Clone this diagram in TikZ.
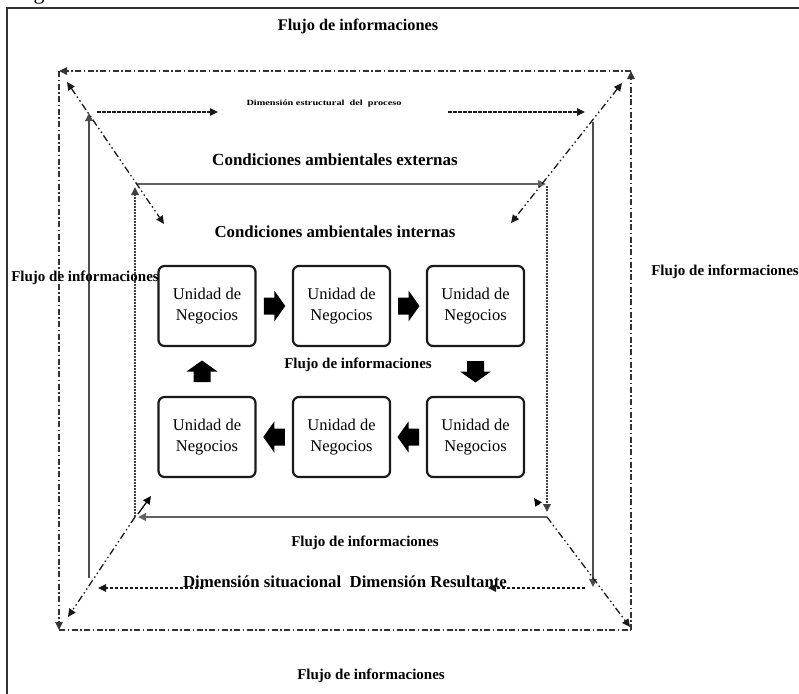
\documentclass[tikz,border=0pt]{standalone}
\usepackage{fontspec}
\usepackage{graphicx}
\setmainfont{Liberation Serif}
\usetikzlibrary{arrows.meta,calc}
\begin{document}
\begin{tikzpicture}[x=1pt,y=-1pt,
  tipa/.style={-{Triangle[length=8pt,width=7.5pt]}},
  tipb/.style={{Triangle[length=8pt,width=7.5pt]}-{Triangle[length=8pt,width=7.5pt]}},
  frame/.style={line width=1.4pt,black!80},
  outerdd/.style={line width=1.3pt,black!80,dash pattern=on 6pt off 2.5pt on 1.5pt off 2.5pt},
  diagdd/.style={line width=1.3pt,black!90,dash pattern=on 7pt off 3pt on 1.5pt off 3pt on 1.5pt off 3pt},
  dashar/.style={line width=1.2pt,black!90,dash pattern=on 3.5pt off 1.5pt},
  solidg/.style={line width=1.6pt,black!70},
  innersolid/.style={line width=2.4pt,black!62},
  innerdash/.style={line width=1.8pt,black!75,dash pattern=on 2pt off 1pt},
  unit/.style={draw=black!90,line width=2.2pt,rounded corners=6pt,minimum width=97pt,minimum height=80pt,
    align=center,font=\fontsize{16.5}{21}\selectfont,inner sep=0pt},
  blockarrow/.pic={\fill[black] (-10.5,-8.5) -- (0,-8.5) -- (0,-15.5) -- (11,0) -- (0,15.5) -- (0,8.5) -- (-10.5,8.5) -- cycle;},
  flujo/.style={font=\fontsize{15}{17}\selectfont\bfseries,inner sep=0pt},
  flujoT/.style={font=\fontsize{16.3}{18}\selectfont\bfseries,inner sep=0pt},
  cond/.style={font=\fontsize{17}{19}\selectfont\bfseries,inner sep=0pt},
  dimtxt/.style={font=\fontsize{16.8}{20}\selectfont\bfseries,inner sep=0pt}
]
\useasboundingbox (0,0) rectangle (799,693);

% cut-off caption fragment
\node[anchor=base,inner sep=0pt,font=\fontsize{22}{24}\selectfont] (capg) at (39,0) {g};

% outer frame
\coordinate (fBL) at (7,720);
\coordinate (fTL) at (7,8);
\coordinate (fTR) at (820,8);
\draw[frame] (fBL) -- (fTL) -- (fTR);

% outer dash-dot square
\coordinate (oTL) at (59,71);
\coordinate (oTR) at (631,71);
\coordinate (oBL) at (59,630);
\coordinate (oBR) at (631,630);
\draw[outerdd,tipa] (oTR) -- (oTL);
\draw[outerdd,tipa] (oTL) -- (oBL);
\draw[outerdd] (oBL) -- (oBR);
\draw[outerdd,tipa] (oBR) -- (oTR);

% second (process) square
\coordinate (sL1) at (89,578);
\coordinate (sL2) at (89,113);
\coordinate (sR1) at (593,122);
\coordinate (sR2) at (593,587);
\draw[solidg,tipa] (sL1) -- (sL2);
\draw[solidg,tipa] (sR1) -- (sR2);
\coordinate (tA1) at (97,112);
\coordinate (tA2) at (218,112);
\coordinate (tB1) at (448,112);
\coordinate (tB2) at (585,112);
\draw[dashar,tipa] (tA1) -- (tA2);
\draw[dashar,tipa] (tB1) -- (tB2);
\coordinate (bA1) at (585,588);
\coordinate (bA2) at (488,588);
\coordinate (bB1) at (203,588);
\coordinate (bB2) at (98,588);
\draw[dashar,tipa] (bA1) -- (bA2);
\draw[dashar,tipa] (bB1) -- (bB2);

% inner square
\coordinate (iTL) at (137,184);
\coordinate (iTR) at (547,184);
\coordinate (iBL) at (135,517);
\coordinate (iBR) at (547,517);
\draw[innersolid,tipa] (iTL) -- ($(iTR)+(-1,0)$);
\draw[innerdash,tipa] ($(iTR)+(0,2)$) -- ($(iBR)+(0,-5)$);
\draw[innersolid,tipa] (iBR) -- ($(iBL)+(3,0)$);
\draw[innerdash,tipa] (iBL) -- ($(iTL)+(-2,3)$);

% diagonals
\coordinate (d1a) at (67,82);
\coordinate (d1b) at (164,224);
\draw[diagdd,tipb] (d1a) -- (d1b);
\coordinate (d2a) at (622,83);
\coordinate (d2b) at (511,223);
\draw[diagdd,tipb] (d2a) -- (d2b);
\coordinate (d3a) at (68,617);
\draw[diagdd,tipa] (iBL) -- (d3a);
\coordinate (d3b) at (151,496);
\draw[line width=1.3pt,black,tipa] ($(iBL)+(3,-3)$) -- (d3b);
\coordinate (d4a) at (630,627);
\draw[diagdd,tipa] (iBR) -- (d4a);
\coordinate (d4b) at (534,498);
\coordinate (d4c) at (539,505);
\draw[line width=1pt,black,-{Triangle[length=8pt,width=7.5pt]}] (d4c) -- (d4b);

% business units
\node[unit] (b1) at (207,306) {Unidad de\\Negocios};
\node[unit] (b2) at (341.5,306) {Unidad de\\Negocios};
\node[unit] (b3) at (475.5,306) {Unidad de\\Negocios};
\node[unit] (b4) at (207,437) {Unidad de\\Negocios};
\node[unit] (b5) at (341.5,437) {Unidad de\\Negocios};
\node[unit] (b6) at (475.5,437) {Unidad de\\Negocios};

% block arrows between units
\pic at ($(b1.east)!0.5!(b2.west)$) {blockarrow};
\pic at ($(b2.east)!0.5!(b3.west)$) {blockarrow};
\pic[rotate=-90] at ($(b3.south)!0.5!(b6.north)$) {blockarrow};
\pic[rotate=180] at ($(b6.west)!0.5!(b5.east)$) {blockarrow};
\pic[rotate=180] at ($(b5.west)!0.5!(b4.east)$) {blockarrow};
\pic[rotate=90] at ($(b4.north)!0.5!(b1.south)+(-5,0)$) {blockarrow};

% labels
\node[flujoT] (ftop) at (358,26) {Flujo de informaciones};
\node[flujo] (fleft) at (85,278) {Flujo de informaciones};
\node[flujo] (fright) at (725,272) {Flujo de informaciones};
\node[flujo] (fmid) at (358,365) {Flujo de informaciones};
\node[flujo] (fbelow) at (365,543) {Flujo de informaciones};
\node[flujo] (fbot) at (371,676) {Flujo de informaciones};
\node[cond] (cext) at (335,160) {Condiciones ambientales externas};
\node[cond,font=\fontsize{16.8}{19}\selectfont\bfseries] (cint) at (335,232) {Condiciones ambientales internas};
\node[inner sep=0pt] (dest) at (324,104) {\resizebox{155pt}{5.5pt}{\bfseries Dimensión estructural\ \ del\ \ proceso}};
\node[dimtxt] (dsit) at (345,582) {Dimensión situacional~ Dimensión Resultante};
\end{tikzpicture}
\end{document}
